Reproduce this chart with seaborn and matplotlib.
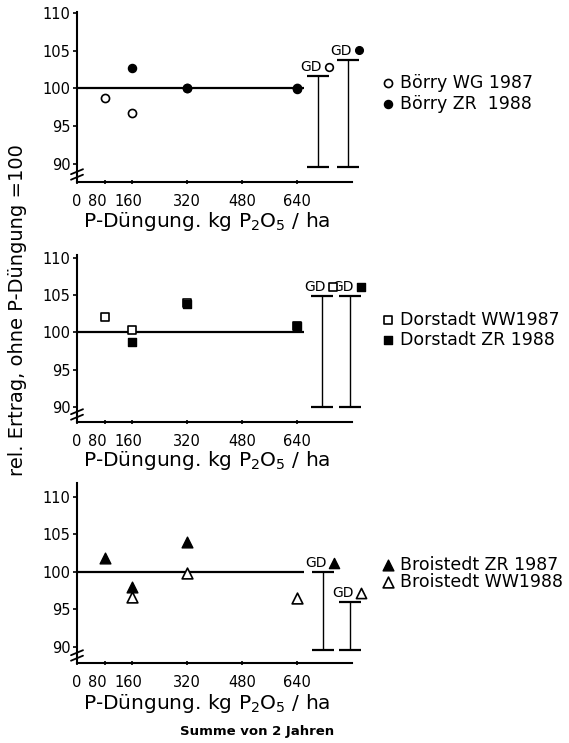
import numpy as np
import pandas as pd
import matplotlib
matplotlib.use("Agg")
import matplotlib.pyplot as plt
import matplotlib.transforms as mtransforms
import seaborn as sns

# ---------------- data ----------------
dose = [80, 160, 320, 640]
xtick_values = [0, 80, 160, 320, 480, 640]
ytick_values = [90, 95, 100, 105, 110]

# Panel 1 – Börry
boerry_wg87 = [98.7, 96.7, 100.0, 100.0]
boerry_zr88 = [np.nan, 102.7, 100.0, 99.9]
boerry_gd_x = [701, 788]
boerry_gd_low = [89.5, 89.5]
boerry_gd_high = [101.6, 103.8]

# Panel 2 – Dorstadt
dorstadt_ww87 = [102.1, 100.3, 104.0, 100.8]
dorstadt_zr88 = [np.nan, 98.7, 103.8, 100.9]
dorstadt_gd_x = [712, 794]
dorstadt_gd_low = [90.0, 90.0]
dorstadt_gd_high = [104.9, 104.9]

# Panel 3 – Broistedt
broistedt_zr87 = [101.9, 98.0, 104.0, np.nan]
broistedt_ww88 = [np.nan, 96.7, 99.8, 96.5]
broistedt_gd_x = [715, 794]
broistedt_gd_low = [89.6, 89.6]
broistedt_gd_high = [100.0, 96.0]

ref_level = 100
ref_end = 660

labels_p1 = ["Börry WG 1987", "Börry ZR  1988"]
labels_p2 = ["Dorstadt WW1987", "Dorstadt ZR 1988"]
labels_p3 = ["Broistedt ZR 1987", "Broistedt WW1988"]

xlabel = "P-Düngung. kg P$_2$O$_5$ / ha"
ylabel = "rel. Ertrag, ohne P-Düngung =100"
footnote = "Summe von 2 Jahren"

# ---------------- style ----------------
sns.set_theme(style="ticks")
plt.rcParams['font.family'] = ['DejaVu Sans']
plt.rcParams['mathtext.fontset'] = 'dejavusans'
plt.rcParams['text.color'] = 'black'
plt.rcParams['axes.labelcolor'] = 'black'
plt.rcParams['xtick.color'] = 'black'
plt.rcParams['ytick.color'] = 'black'
plt.rcParams['legend.labelcolor'] = 'black'

W, H = 569, 743
fig = plt.figure(figsize=(W / 100, H / 100), dpi=100)

x_left_px = 77.0
xlim = (0, 800)
px_per_unit = 0.344
x_right_px = x_left_px + (xlim[1] - xlim[0]) * px_per_unit

panels = [
    dict(top=11.7, bottom=181.7, ylim=(87.6, 110.2),
         series=[(boerry_wg87, 'o', True, 34), (boerry_zr88, 'o', False, 34)],
         labels=labels_p1, gd_x=boerry_gd_x, gd_low=boerry_gd_low, gd_high=boerry_gd_high,
         legend_y=74, lspace=0.17),
    dict(top=255.0, bottom=421.7, ylim=(88.0, 110.4),
         series=[(dorstadt_ww87, 's', True, 36), (dorstadt_zr88, 's', False, 36)],
         labels=labels_p2, gd_x=dorstadt_gd_x, gd_low=dorstadt_gd_low, gd_high=dorstadt_gd_high,
         legend_y=311, lspace=0.1),
    dict(top=482.7, bottom=662.7, ylim=(87.9, 111.9),
         series=[(broistedt_zr87, '^', False, 60), (broistedt_ww88, '^', True, 60)],
         labels=labels_p3, gd_x=broistedt_gd_x, gd_low=broistedt_gd_low, gd_high=broistedt_gd_high,
         legend_y=556, lspace=-0.08),
]

label_shift_pt = {1: -5.0, 2: -2.5}

for p in panels:
    ax = fig.add_axes([x_left_px / W, 1 - p['bottom'] / H,
                       (x_right_px - x_left_px) / W, (p['bottom'] - p['top']) / H])
    handles = []
    for vals, mk, hollow, s in p['series']:
        df = pd.DataFrame({'dose': dose, 'val': vals})
        if hollow:
            sns.scatterplot(data=df, x='dose', y='val', marker=mk, s=s, ax=ax,
                            facecolor='white', edgecolor='black', linewidth=1.2, zorder=3)
        else:
            sns.scatterplot(data=df, x='dose', y='val', marker=mk, s=s, ax=ax,
                            color='black', edgecolor='black', linewidth=1.0, zorder=4)
        handles.append(ax.collections[-1])

    # reference line
    ax.hlines(ref_level, xlim[0], ref_end, color='black', linewidth=1.6, zorder=2)

    # GD bars
    capw = 32
    for i, (gx, lo, hi) in enumerate(zip(p['gd_x'], p['gd_low'], p['gd_high'])):
        ax.vlines(gx, lo, hi, color='black', linewidth=1.0, clip_on=False)
        ax.hlines([lo, hi], gx - capw, gx + capw, color='black', linewidth=1.6, clip_on=False)
        ax.text(gx + 4 / px_per_unit, hi + 0.3, "GD", ha='right', va='bottom',
                fontsize=10, color='black', clip_on=False)
        vals, mk, hollow, s = p['series'][i]
        ax.scatter([gx + 11 / px_per_unit], [hi + 1.25], marker=mk, s=s * 0.9,
                   facecolor='white' if hollow else 'black', edgecolor='black',
                   linewidth=1.2 if hollow else 1.0, clip_on=False, zorder=5)

    ax.set_xlim(*xlim)
    ax.set_ylim(*p['ylim'])
    ax.set_xticks(xtick_values)
    ax.set_xticklabels([str(v) for v in xtick_values])
    ax.set_yticks(ytick_values)
    ax.set_yticklabels([str(v) for v in ytick_values])
    ax.tick_params(axis='both', labelsize=10.5, length=3, width=1.2, colors='black')
    ax.tick_params(axis='x', pad=7, direction='inout')
    ax.tick_params(axis='y', pad=1.5)
    for idx, sh in label_shift_pt.items():
        lab = ax.get_xticklabels()[idx]
        lab.set_transform(lab.get_transform() +
                          mtransforms.ScaledTranslation(sh / 72, 0, fig.dpi_scale_trans))
    ax.set_xlabel(xlabel, fontsize=14.5, labelpad=1, color='black')
    ax.xaxis.set_label_coords((207 - x_left_px) / (x_right_px - x_left_px), -0.165)
    ax.xaxis.label.set_va('top')
    ax.set_ylabel('')
    sns.despine(ax=ax)
    for sp in ['left', 'bottom']:
        ax.spines[sp].set_linewidth(1.5)
        ax.spines[sp].set_color('black')
    ax.patch.set_alpha(0)

    # axis break marks on y-axis
    h_px = p['bottom'] - p['top']
    w_px = x_right_px - x_left_px
    for off in (4.5, 10.0):
        ax.plot([-6 / w_px, 6 / w_px], [(off - 2.5) / h_px, (off + 2.5) / h_px],
                transform=ax.transAxes, color='black', linewidth=1.3, clip_on=False)

    ax.legend(handles=handles, labels=p['labels'], loc='upper left',
              bbox_to_anchor=(379 / W, 1 - p['legend_y'] / H), bbox_transform=fig.transFigure,
              frameon=False, fontsize=12.5, handletextpad=0.2, labelspacing=p['lspace'],
              borderpad=0, borderaxespad=0, handlelength=1.0, labelcolor='black')

fig.text(18 / W, 1 - 310 / H, ylabel, rotation=90, ha='center', va='center', fontsize=14,
         color='black')
fig.text(257 / W, 1 - 731 / H, footnote, ha='center', va='center', fontsize=9.5,
         fontweight='bold', color='black')

fig.savefig("out.png", dpi=100)
